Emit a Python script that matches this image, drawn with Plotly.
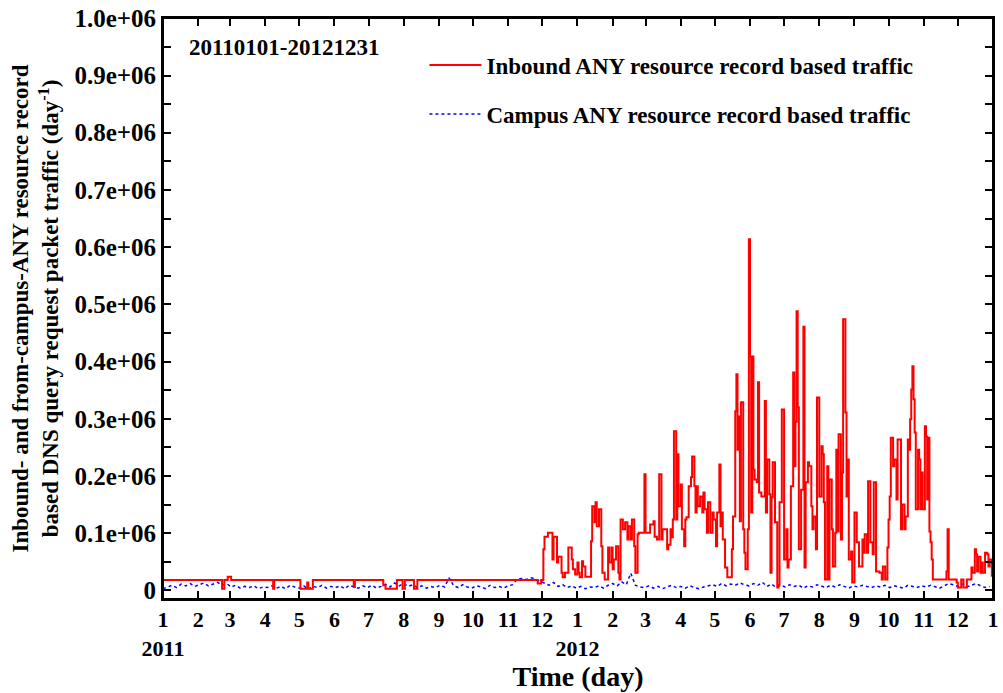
import pandas as pd
import plotly.graph_objects as go

START = pd.Timestamp("2011-01-01")

# Inbound ANY traffic: step values, (day offset from 2011-01-01, packets/day)
RED_DAYS = [
    0, 52, 54, 57, 60, 97, 98, 121, 127, 128, 132, 168, 169, 194, 196, 206, 211, 213, 221, 224, 330, 333,
    335, 336, 339, 343, 344, 347, 348, 351, 352, 354, 357, 360, 361, 363,
    365, 366, 367, 369, 370, 372, 377, 378, 380, 381, 382, 384, 386, 387, 389, 392, 393,
    395, 396, 397, 399, 401, 402, 403, 405, 407, 409, 410, 412, 413, 415, 416, 418, 419,
    424, 425, 429, 432, 433, 435, 437, 439, 440, 444, 445, 447, 448, 449, 450, 452,
    453, 454, 456, 457, 459, 460, 461, 463, 465, 466, 468, 469, 470, 471, 473, 475, 476, 477, 479, 480, 482,
    484, 485, 487, 488, 490, 491, 492, 493, 495, 497, 501, 502, 504, 505, 506, 507, 508, 509, 511, 512, 513, 515,
    516, 517, 518, 519, 520, 521, 523, 524, 525, 527, 530, 531, 532, 534, 535, 536, 537, 539, 541, 542, 543,
    545, 547, 549, 550, 551, 553, 555, 556, 557, 558, 559, 560, 562, 564, 565, 566, 568, 569, 571, 572, 573,
    575, 576, 578, 580, 581, 582, 583, 585, 586, 587, 589, 590, 592, 593, 594, 595, 597, 598, 599, 601, 602, 603,
    604, 606, 607, 609, 611, 613, 616, 617, 618, 620, 621, 623, 625, 626, 628, 631, 633,
    634, 636, 638, 639, 640, 641, 643, 644, 646, 647, 650, 651, 653, 654, 656, 657, 658, 659, 660, 661, 662, 663,
    665, 666, 667, 668, 669, 671, 672, 673, 674, 675, 676, 677, 678, 690, 691, 692, 699, 700, 703, 705, 708,
    712, 713, 715, 716, 717, 718, 720, 721, 722, 724, 726, 727, 728, 730,
]
RED_VALUES = [
    18000, 3000, 18000, 24000, 18000, 3000, 18000, 3000, 14000, 3000, 18000, 6000, 18000, 9000, 3000, 18000, 3000, 18000, 3000, 18000, 12000, 18000,
    72000, 94000, 101000, 54000, 94000, 49000, 59000, 31000, 23000, 31000, 75000, 54000, 37000, 28000,
    49000, 31000, 23000, 51000, 42000, 24000, 86000, 147000, 119000, 154000, 112000, 142000, 77000, 31000, 19000, 75000, 49000,
    75000, 37000, 54000, 77000, 31000, 19000, 124000, 107000, 119000, 89000, 112000, 89000, 124000, 77000, 31000, 98000, 101000,
    203000, 101000, 115000, 121000, 94000, 89000, 203000, 89000, 107000, 72000, 80000, 107000, 93000, 124000, 278000, 124000,
    238000, 147000, 185000, 107000, 77000, 124000, 128000, 182000, 198000, 234000, 182000, 136000, 182000, 147000, 164000, 136000, 171000, 142000, 101000, 154000, 101000,
    136000, 124000, 77000, 136000, 220000, 112000, 136000, 89000, 40000, 23000, 72000, 129000, 313000, 378000, 246000, 304000, 121000, 329000, 107000, 66000, 37000, 107000,
    614000, 409000, 136000, 409000, 211000, 194000, 189000, 364000, 171000, 164000, 331000, 136000, 229000, 168000, 31000, 163000, 224000, 119000, 5000, 10000, 154000,
    316000, 54000, 107000, 40000, 54000, 182000, 381000, 217000, 295000, 488000, 320000, 72000, 176000, 461000, 40000, 189000, 224000, 217000, 147000, 107000, 129000,
    72000, 337000, 164000, 252000, 238000, 154000, 19000, 217000, 19000, 194000, 107000, 42000, 101000, 246000, 103000, 273000, 89000, 206000, 474000, 311000, 164000, 229000,
    54000, 68000, 14000, 136000, 84000, 42000, 89000, 66000, 98000, 66000, 191000, 84000, 63000, 189000, 33000, 31000, 19000,
    42000, 19000, 75000, 124000, 164000, 267000, 217000, 229000, 159000, 264000, 107000, 150000, 107000, 129000, 264000, 246000, 299000, 351000, 392000, 334000, 276000, 142000,
    246000, 229000, 142000, 206000, 142000, 287000, 269000, 159000, 267000, 103000, 84000, 54000, 19000, 33000, 107000, 19000, 14000, 5000, 19000, 5000, 19000,
    40000, 31000, 72000, 63000, 33000, 59000, 31000, 49000, 31000, 66000, 63000, 42000, 54000, 24000,
]

# Campus ANY traffic, read every 4 days from 2011-01-01
BLUE_VALUES = [
    3000, 6000, 9000, 5000, 11000, 8000, 12000, 7000,
    10000, 13000, 8000, 11000, 14000, 9000, 12000,
    6000, 9000, 4000, 7000, 5000, 8000, 3000, 6000,
    5000, 8000, 4000, 7000, 3000, 9000, 6000,
    4000, 8000, 2000, 7000, 5000, 9000, 4000, 7000,
    5000, 8000, 3000, 9000, 6000, 4000, 8000,
    5000, 9000, 4000, 7000, 11000, 6000, 13000, 8000,
    12000, 7000, 10000, 5000, 8000, 4000, 7000, 5000,
    9000, 6000, 22000, 8000, 5000, 10000, 6000,
    4000, 8000, 6000, 3000, 9000, 5000, 7000, 4000,
    8000, 10000, 20000, 21000, 19000, 22000, 20000,
    16000, 13000, 9000, 14000, 7000, 10000, 5000, 8000,
    4000, 7000, 3000, 6000, 5000, 8000, 4000, 9000,
    12000, 8000, 15000, 10000, 30000, 9000, 6000,
    5000, 8000, 4000, 7000, 3000, 6000, 9000, 5000,
    7000, 4000, 8000, 5000, 3000, 6000, 8000,
    10000, 7000, 12000, 8000, 11000, 9000, 13000, 10000,
    8000, 12000, 9000, 14000, 7000, 11000, 5000, 9000,
    6000, 10000, 7000, 9000, 4000, 8000, 6000, 10000,
    7000, 5000, 9000, 6000, 10000, 7000, 4000,
    8000, 6000, 9000, 7000, 5000, 8000, 6000, 9000,
    5000, 8000, 6000, 4000, 9000, 7000, 5000, 8000,
    6000, 9000, 7000, 4000, 8000, 12000, 10000,
    7000, 11000, 6000, 9000, 12000, 8000, 5000, 7000,
]

MONTH_LABELS = ["1<br>2011", "2", "3", "4", "5", "6", "7", "8", "9", "10", "11", "12",
                "1<br>2012", "2", "3", "4", "5", "6", "7", "8", "9", "10", "11", "12", "1"]
Y_TICKS = [0, 100000, 200000, 300000, 400000, 500000, 600000, 700000, 800000, 900000, 1000000]
Y_LABELS = ["0", "0.1e+06", "0.2e+06", "0.3e+06", "0.4e+06", "0.5e+06",
            "0.6e+06", "0.7e+06", "0.8e+06", "0.9e+06", "1.0e+06"]

FONT = "Liberation Serif, Times New Roman, serif"

red_x = START + pd.to_timedelta(RED_DAYS, unit="D")
blue_x = pd.date_range(START, periods=len(BLUE_VALUES), freq="4D")
month_ticks = pd.date_range(START, periods=len(MONTH_LABELS), freq="MS")

fig = go.Figure()
fig.add_trace(go.Scatter(
    x=blue_x, y=BLUE_VALUES, mode="lines", name="Campus ANY resource record based traffic",
    line=dict(color="#0000ff", width=1.5, dash="dot"), legendrank=2, legendgroup="b",
))
fig.add_trace(go.Scatter(
    x=red_x, y=RED_VALUES, mode="lines", name="Inbound ANY resource record based traffic",
    line=dict(color="#ff0000", width=2, shape="hv"), legendrank=1, legendgroup="a",
))

fig.add_annotation(
    text="20110101-20121231", xref="paper", yref="paper", x=0.029, y=0.95,
    xanchor="left", yanchor="middle", showarrow=False,
    font=dict(family=FONT, size=23, color="black", weight="bold"),
)
# plot frame
fig.add_shape(type="rect", xref="paper", yref="paper", x0=0, y0=0, x1=1, y1=1,
              line=dict(color="black", width=2), layer="above")

fig.update_layout(
    width=1003, height=693,
    margin=dict(l=163, r=10, t=18, b=94),
    paper_bgcolor="white", plot_bgcolor="white",
    font=dict(family=FONT, size=23, color="black", weight="bold"),
    showlegend=True,
    legend=dict(
        x=0.315, y=0.956, xanchor="left", yanchor="top",
        bgcolor="rgba(0,0,0,0)", itemwidth=52, tracegroupgap=16,
        font=dict(family=FONT, size=23, color="black", weight="bold"),
    ),
)
fig.update_xaxes(
    range=[START, START + pd.Timedelta(days=731)],
    tickmode="array", tickvals=month_ticks, ticktext=MONTH_LABELS, tickangle=0,
    tickfont=dict(size=22), automargin=False,
    ticks="inside", ticklen=8, tickwidth=1.5, tickcolor="black",
    showline=True, linecolor="black", linewidth=2, mirror="allticks",
    showgrid=False, zeroline=False,
    title=dict(text="Time (day)", standoff=2),
)
fig.update_yaxes(
    range=[-15000, 1000500],
    tickmode="array", tickvals=Y_TICKS, ticktext=Y_LABELS,
    tickfont=dict(size=25), automargin=False,
    ticks="inside", ticklen=8, tickwidth=1.5, tickcolor="black",
    minor=dict(dtick=50000, tick0=50000, ticks="inside", ticklen=8, tickcolor="black", tickwidth=1.5),
    showline=True, linecolor="black", linewidth=2, mirror="allticks",
    showgrid=False, zeroline=False,
    title=dict(
        text="Inbound- and from-campus-ANY resource record<br>based DNS query request packet traffic (day<sup>-1</sup>)",
        standoff=9, font=dict(size=23),
    ),
)

# drop the page's default body margin so the figure sits at the window origin
fig.write_html(
    "out.html",
    config={"displayModeBar": False},
    post_script="document.body.style.margin = '0px';",
)
